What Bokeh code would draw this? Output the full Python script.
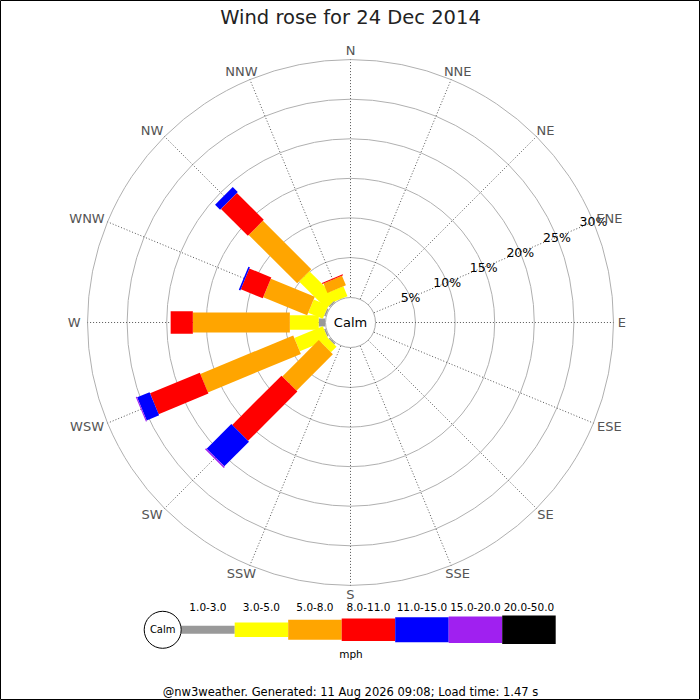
import numpy as np
from bokeh.plotting import figure
from bokeh.models import Range1d
from bokeh.embed import file_html
from bokeh.resources import INLINE
from bokeh.core.properties import value

# ---------------- data ----------------
TITLE = "Wind rose for 24 Dec 2014"
FOOTER = "@nw3weather. Generated: 11 Aug 2026 09:08; Load time: 1.47 s"
UNITS = "mph"
DIRECTIONS = ["N", "NNE", "NE", "ENE", "E", "ESE", "SE", "SSE",
              "S", "SSW", "SW", "WSW", "W", "WNW", "NW", "NNW"]
SPEED_BANDS = ["1.0-3.0", "3.0-5.0", "5.0-8.0", "8.0-11.0",
               "11.0-15.0", "15.0-20.0", "20.0-50.0"]
BAND_COLORS = ["#999999", "#ffff00", "#ffa500", "#ff0000",
               "#0000ff", "#a020f0", "#000000"]
RING_PCTS = [5, 10, 15, 20, 25, 30]
RING_LABELS = ["5%", "10%", "15%", "20%", "25%", "30%"]

# frequency (%) of each speed band per direction, N .. NNW
pct_1_3   = [0, 0, 0, 0, 0, 0, 0, 0, 0, 0, 0.2, 0.2, 0.8, 0.2, 0.2, 0]
pct_3_5   = [0, 0, 0, 0, 0, 0, 0, 0, 0, 0, 1.0, 3.9, 3.65, 2.0, 4.85, 1.36]
pct_5_8   = [0, 0, 0, 0, 0, 0, 0, 0, 0, 0, 6.5, 12.7, 12.25, 6.0, 8.65, 1.3]
pct_8_11  = [0, 0, 0, 0, 0, 0, 0, 0, 0, 0, 8.8, 6.8, 2.8, 3.0, 4.8, 0.13]
pct_11_15 = [0, 0, 0, 0, 0, 0, 0, 0, 0, 0, 4.4, 1.7, 0, 0.2, 0.9, 0]
pct_15_20 = [0, 0, 0, 0, 0, 0, 0, 0, 0, 0, 0.2, 0.15, 0, 0, 0, 0]
pct_20_50 = [0, 0, 0, 0, 0, 0, 0, 0, 0, 0, 0, 0, 0, 0, 0, 0]
BANDS = [pct_1_3, pct_3_5, pct_5_8, pct_8_11, pct_11_15, pct_15_20, pct_20_50]

# ---------------- scale / style ----------------
R0 = 25.4          # radius of calm circle (0 %) in px
K = 7.92           # px per percent
BAR_W = [8, 14.5, 20, 22.5, 25, 26.5, 28.5]
FONT = value("DejaVu Sans")


def rad(p):
    return R0 + K * np.asarray(p, dtype=float)


theta = np.deg2rad(np.arange(len(DIRECTIONS)) * 22.5)   # compass angle
ux, uy = np.sin(theta), np.cos(theta)

p = figure(width=700, height=700, x_range=Range1d(-350, 350),
           y_range=Range1d(-378, 322), output_backend="svg",
           toolbar_location=None, min_border=0, title=None,
           x_axis_type=None, y_axis_type=None)
p.outline_line_color = "black"
p.outline_line_width = 1
p.background_fill_color = "white"
p.border_fill_color = "white"

# rings
rmax = rad(RING_PCTS[-1])
p.circle(x=[0] * len(RING_PCTS), y=[0] * len(RING_PCTS), radius=list(rad(RING_PCTS)),
         fill_color=None, line_color="#b0b0b0", line_width=1)
# spokes
p.segment(x0=list(R0 * ux), y0=list(R0 * uy), x1=list(rmax * ux), y1=list(rmax * uy),
          line_color="#555555", line_width=1, line_dash="1 2")

# stacked bars
cum = np.zeros(len(DIRECTIONS))
for bi, band in enumerate(BANDS):
    vals = np.asarray(band, dtype=float)
    start = cum.copy()
    cum = cum + vals
    m = vals > 0
    r_a, r_b = rad(start[m]), rad(cum[m])
    rc = (r_a + r_b) / 2
    p.rect(x=list(rc * ux[m]), y=list(rc * uy[m]), width=list(r_b - r_a),
           height=BAR_W[bi], angle=list(np.pi / 2 - theta[m]),
           fill_color=BAND_COLORS[bi], line_color=None)

# calm circle
p.circle(x=[0], y=[0], radius=R0 - 0.4, fill_color="white", line_color="#aaaaaa", line_width=1)
p.text(x=[0], y=[0], text=["Calm"], text_font=FONT, text_font_size="13px",
       text_align="center", text_baseline="middle", text_color="black")

# ring labels along ENE spoke
ang_lab = np.deg2rad(67.5)
rr = rad(RING_PCTS)
p.text(x=list(rr * np.sin(ang_lab)), y=list(rr * np.cos(ang_lab)), text=RING_LABELS,
       text_font=FONT, text_font_size="12.5px", text_align="center",
       text_baseline="middle", text_color="black")

# direction labels (left-hand labels sit a little further out)
rl = rmax + 4
hw = np.array([4.4 * len(d) for d in DIRECTIONS])
hw = np.where(ux < -0.1, hw + 5, hw)
hh = 5.0
lx = rl * ux + hw * ux
ly = rl * uy + hh * uy
p.text(x=list(lx), y=list(ly), text=DIRECTIONS, text_font=FONT, text_font_size="13px",
       text_align="center", text_baseline="middle", text_color="#555555")

# title
p.text(x=[0], y=[305], text=[TITLE], text_font=FONT, text_font_size="19.5px",
       text_align="center", text_baseline="middle", text_color="#222222")

# legend
LEG_Y = -307.3
LEG_X0 = -169.3
LEG_SEG = 53.5
nb = len(SPEED_BANDS)
lcx = LEG_X0 + LEG_SEG * (np.arange(nb) + 0.5)
for bi in range(nb):
    p.rect(x=[lcx[bi]], y=[LEG_Y], width=LEG_SEG, height=BAR_W[bi],
           fill_color=BAND_COLORS[bi], line_color=None)
p.circle(x=[LEG_X0 - 18.5], y=[LEG_Y], radius=18.5, fill_color="white",
         line_color="black", line_width=1)
p.text(x=[LEG_X0 - 18.5], y=[LEG_Y], text=["Calm"], text_font=FONT, text_font_size="10px",
       text_align="center", text_baseline="middle", text_color="black")
p.text(x=list(lcx), y=[LEG_Y + 22.5] * nb, text=SPEED_BANDS, text_font=FONT,
       text_font_size="10.5px", text_align="center", text_baseline="middle",
       text_color="black")
p.text(x=[0.5], y=[LEG_Y - 24], text=[UNITS], text_font=FONT, text_font_size="10.5px",
       text_align="center", text_baseline="middle", text_color="black")

# footer
p.text(x=[0], y=[-369.5], text=[FOOTER], text_font=FONT, text_font_size="11.5px",
       text_align="center", text_baseline="middle", text_color="black")

open("out.html", "w").write(file_html(p, INLINE))
